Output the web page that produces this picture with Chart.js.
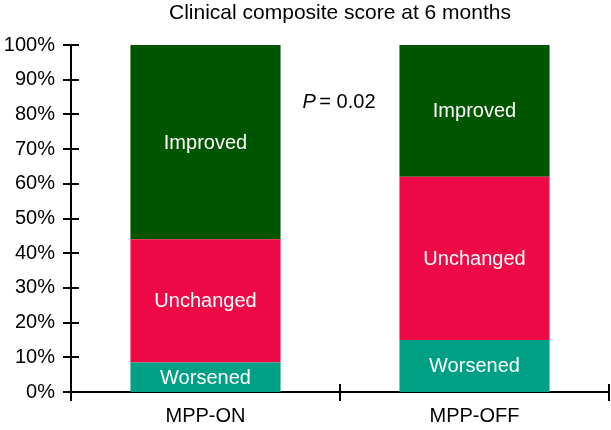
<!DOCTYPE html>
<html>
<head>
<meta charset="utf-8">
<script src="https://cdn.jsdelivr.net/npm/chart.js@4/dist/chart.umd.min.js"></script>
<style>
  html, body { margin: 0; padding: 0; background: #fff; }
  #wrap { width: 611px; height: 430px; }
</style>
</head>
<body>
<div id="wrap"><canvas id="chart"></canvas></div>
<script>
// data (percent of patients)
const categories = ["MPP-ON", "MPP-OFF"];
const worsened = [8.5, 15];
const unchanged = [35.5, 47];
const improved = [56, 38];
const yTicks = [0, 10, 20, 30, 40, 50, 60, 70, 80, 90, 100];
const titleText = "Clinical composite score at 6 months";
const pValueText = "0.02";

const FONT = "'Liberation Sans', Arial, Helvetica, sans-serif";

// title over the plot area, ticks crossing the axis lines, bar labels and the P value
const extrasPlugin = {
  id: "extras",
  afterDraw(chart) {
    const ctx = chart.ctx;
    const x = chart.scales.x;
    const y = chart.scales.y;
    ctx.save();

    // title, centred on the plot area
    ctx.fillStyle = "#000";
    ctx.font = "21px " + FONT;
    ctx.textAlign = "center";
    ctx.textBaseline = "middle";
    ctx.fillText(titleText, (x.left + x.right) / 2, 13);

    ctx.strokeStyle = "#000";
    ctx.lineWidth = 2;
    // y ticks
    yTicks.forEach(function (v) {
      const py = Math.round(y.getPixelForValue(v));
      ctx.beginPath();
      ctx.moveTo(x.left - 8, py);
      ctx.lineTo(x.left + 8, py);
      ctx.stroke();
    });
    // x ticks at category boundaries
    for (let i = 0; i <= categories.length; i++) {
      const px = x.getPixelForValue(i - 0.5);
      ctx.beginPath();
      ctx.moveTo(px, y.bottom - 8);
      ctx.lineTo(px, y.bottom + 9);
      ctx.stroke();
    }

    // labels in the segments
    ctx.fillStyle = "#fff";
    ctx.font = "20px " + FONT;
    ctx.textAlign = "center";
    ctx.textBaseline = "middle";
    chart.data.datasets.forEach(function (ds, di) {
      const meta = chart.getDatasetMeta(di);
      meta.data.forEach(function (bar) {
        ctx.fillText(ds.label, bar.x, (bar.y + bar.base) / 2 + 1);
      });
    });

    // P value between the bars
    const px = x.getPixelForValue(0.5);
    const py = y.getPixelForValue(83.5);
    ctx.fillStyle = "#000";
    ctx.textAlign = "left";
    const pPart = "P";
    const rest = " = " + pValueText;
    ctx.font = "italic 20px " + FONT;
    const w1 = ctx.measureText(pPart).width;
    ctx.font = "20px " + FONT;
    const w2 = ctx.measureText(rest).width;
    const start = px - (w1 + w2) / 2;
    ctx.font = "italic 20px " + FONT;
    ctx.fillText(pPart, start, py);
    ctx.font = "20px " + FONT;
    ctx.fillText(rest, start + w1 - 2, py);
    ctx.restore();
  }
};

new Chart(document.getElementById("chart"), {
  type: "bar",
  data: {
    labels: categories,
    datasets: [
      { label: "Worsened", data: worsened, backgroundColor: "#00a084" },
      { label: "Unchanged", data: unchanged, backgroundColor: "#ee0a46" },
      { label: "Improved", data: improved, backgroundColor: "#005500" }
    ]
  },
  options: {
    responsive: true,
    maintainAspectRatio: false,
    animation: false,
    layout: { padding: { top: 45, right: 2, bottom: 0, left: 0 } },
    datasets: {
      bar: { categoryPercentage: 1, barPercentage: 0.558, borderWidth: 0 }
    },
    plugins: {
      legend: { display: false },
      tooltip: { enabled: false },
      title: { display: false }
    },
    scales: {
      x: {
        stacked: true,
        grid: { display: false, drawTicks: false },
        border: { display: true, color: "#000", width: 2 },
        ticks: { color: "#000", font: { family: FONT, size: 20 }, padding: 12 },
        afterFit: function (scale) { scale.height = 38; }
      },
      y: {
        stacked: true,
        min: 0,
        max: 100,
        grid: { display: false, drawTicks: false },
        border: { display: true, color: "#000", width: 2 },
        afterBuildTicks: function (scale) {
          scale.ticks = yTicks.map(function (v) { return { value: v }; });
        },
        ticks: {
          color: "#000",
          font: { family: FONT, size: 20 },
          padding: 16,
          callback: function (v) { return v + "%"; }
        },
        afterFit: function (scale) { scale.width = 71; }
      }
    }
  },
  plugins: [extrasPlugin]
});
</script>
</body>
</html>
